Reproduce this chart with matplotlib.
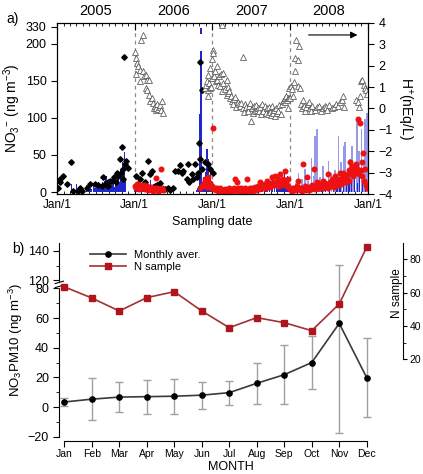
import numpy as np
import matplotlib
matplotlib.use("Agg")
import matplotlib.pyplot as plt
import matplotlib.dates as mdates

plt.rcParams['font.family'] = ['Liberation Sans', 'DejaVu Sans']
plt.rcParams['mathtext.fontset'] = 'custom'
plt.rcParams['mathtext.rm'] = 'Liberation Sans'
plt.rcParams['mathtext.it'] = 'Liberation Sans'

START = np.datetime64('2005-01-01')
YEARS = ['2005', '2006', '2007', '2008']

# ---- panel a: (days since 2005-01-01, value) ----
black_pts = [(6, 6), (14, 13), (16, 18), (30, 22), (45, 11), (64, 41), (77, 2), (100, 2),
             (108, 6), (116, 2), (139, 6), (155, 11), (178, 11), (194, 9), (210, 8), (218, 20),
             (226, 11), (238, 13), (241, 8), (249, 15), (260, 15), (269, 20), (276, 13),
             (280, 26), (288, 22), (296, 45), (301, 26), (304, 61), (308, 31), (312, 18),
             (315, 182), (320, 38), (324, 42), (332, 33),
             (370, 22), (382, 11), (390, 17), (401, 26), (414, 13), (429, 42), (435, 24),
             (448, 29), (460, 8), (472, 10), (485, 12), (508, 4), (520, 6), (530, 3),
             (545, 5), (555, 29), (568, 29), (578, 37), (586, 26), (594, 29), (609, 17),
             (617, 38), (620, 13), (633, 24), (640, 17), (648, 38), (656, 20), (664, 26),
             (667, 66), (672, 44), (674, 175), (680, 31), (682, 137), (695, 41), (711, 38),
             (719, 31), (735, 26)]

red_pts = [(368, 8), (372, 5), (375, 11), (378, 6), (382, 9), (385, 4), (388, 7), (392, 10),
           (396, 5), (400, 8), (404, 6), (408, 9), (412, 4), (416, 7), (420, 5), (424, 8),
           (428, 3), (432, 6), (436, 4), (440, 7), (444, 3), (448, 5), (452, 2), (456, 4),
           (460, 6), (464, 19), (468, 3), (472, 5), (476, 2), (480, 4), (485, 3), (490, 31),
           (494, 5), (498, 3),
           (672, 5), (680, 8), (690, 12), (695, 17), (700, 10), (703, 7), (708, 14), (711, 20),
           (715, 9), (719, 12), (724, 6), (727, 8), (730, 5), (735, 87), (738, 4), (742, 6),
           (746, 3), (750, 5), (754, 2), (758, 4), (762, 3), (766, 5), (770, 2), (774, 3),
           (778, 1), (782, 3), (786, 2), (790, 4), (794, 1), (798, 3), (802, 2), (806, 5),
           (810, 2), (814, 3), (818, 1), (822, 4), (826, 2), (830, 6), (836, 17), (840, 3),
           (844, 13), (848, 5), (852, 2), (856, 4), (860, 3), (864, 6), (868, 2), (872, 4),
           (876, 1), (880, 3), (884, 5), (888, 2), (891, 17), (895, 4), (900, 2), (905, 5),
           (910, 3), (915, 6), (920, 2), (925, 4), (930, 7), (935, 3), (940, 5), (945, 8),
           (950, 4), (954, 13), (958, 6), (962, 9), (966, 5), (970, 8), (975, 11), (980, 6),
           (985, 15), (990, 9), (995, 12), (1000, 7), (1005, 10), (1009, 20), (1014, 13),
           (1018, 9), (1024, 22), (1028, 14), (1032, 10), (1036, 17), (1040, 12), (1044, 8),
           (1048, 24), (1052, 15), (1056, 11), (1060, 18), (1064, 13), (1068, 9), (1071, 29),
           (1075, 14), (1080, 10), (1084, 7), (1087, 17), (1091, 5),
           (1098, 3), (1102, 5), (1106, 2), (1110, 4), (1114, 6), (1118, 3), (1122, 5),
           (1126, 8), (1130, 4), (1134, 15), (1138, 6), (1142, 3), (1146, 5), (1150, 2),
           (1154, 38), (1158, 6), (1162, 4), (1166, 8), (1170, 3), (1173, 20), (1177, 5),
           (1181, 7), (1185, 3), (1189, 6), (1193, 4), (1197, 9), (1201, 5), (1205, 31),
           (1209, 7), (1213, 4), (1217, 10), (1220, 13), (1224, 6), (1228, 8), (1232, 5),
           (1236, 11), (1240, 7), (1244, 9), (1248, 6), (1251, 15), (1255, 8), (1259, 12),
           (1263, 7), (1267, 10), (1271, 6), (1275, 24), (1279, 9), (1283, 13), (1287, 8),
           (1291, 17), (1295, 11), (1299, 7), (1303, 14), (1306, 22), (1310, 10), (1314, 15),
           (1318, 9), (1322, 12), (1326, 17), (1330, 26), (1334, 11), (1338, 19), (1342, 13),
           (1345, 26), (1350, 16), (1354, 21), (1358, 14), (1362, 18), (1366, 24), (1370, 15),
           (1374, 30), (1377, 40), (1381, 28), (1385, 35), (1389, 22), (1393, 30), (1397, 25),
           (1400, 33), (1404, 38), (1408, 31), (1412, 27), (1416, 98), (1420, 24), (1423, 93),
           (1427, 30), (1431, 22), (1435, 40), (1439, 53), (1443, 15), (1447, 31), (1451, 10),
           (1455, 6)]

tri_pts = [(367, 2.65), (370, 2.35), (372, 1.6), (376, 2.15), (381, 2.0), (388, 1.8),
           (388, 1.27), (396, 3.2), (404, 3.45), (404, 1.74), (410, 1.5), (417, 1.58),
           (417, 0.96), (423, 1.35), (423, 0.85), (432, 1.32), (432, 0.65), (439, 0.34),
           (445, 0.5), (451, 0.26), (454, 0.03), (459, 0.11), (464, -0.05), (467, 0.03),
           (472, 0.2), (475, -0.01), (482, 0.08), (486, 0.15), (490, -0.05), (495, 0.34),
           (498, -0.2),
           (695, 0.96), (700, 1.1), (703, 1.27), (707, 0.57), (711, 1.58), (711, 0.88),
           (715, 1.2), (719, 0.96), (719, 1.89), (724, 1.0), (727, 1.43), (730, 2.3),
           (733, 2.75), (735, 2.6), (738, 1.5), (742, 1.74), (745, 1.3), (750, 1.97),
           (750, 1.35), (755, 1.1), (760, 1.5), (766, 1.04), (770, 1.6), (774, 3.9),
           (774, 0.8), (778, 1.66), (782, 1.2), (790, 0.9), (797, 1.35), (797, 0.65),
           (801, 1.0), (805, 0.73), (810, 0.8), (813, 0.5), (817, 0.6), (821, 0.34),
           (825, 0.19), (830, 0.45), (836, 0.54), (842, 0.08), (848, 0.3), (855, 0.19),
           (860, 0.14), (866, 0.25), (872, 0.0), (876, 2.43), (880, -0.15), (885, 0.2),
           (890, 0.05), (895, -0.1), (900, 0.1), (905, 0.26), (910, -0.59), (915, 0.0),
           (920, -0.2), (925, 0.1), (930, -0.1), (935, 0.15), (940, -0.05), (945, 0.0),
           (950, -0.12), (955, 0.05), (960, -0.28), (965, 0.19), (970, -0.1), (975, 0.1),
           (980, -0.2), (985, 0.0), (990, -0.25), (995, 0.05), (1000, -0.15), (1005, -0.3),
           (1010, 0.1), (1015, -0.2), (1020, -0.05), (1025, -0.35), (1030, 0.0), (1035, -0.2),
           (1040, -0.1), (1045, 0.15), (1050, -0.25), (1055, 0.2), (1060, 0.35), (1065, 0.4),
           (1070, 0.5), (1073, 0.3), (1076, 0.6), (1080, 0.42), (1084, 0.5), (1087, 0.03),
           (1090, 0.95), (1092, 0.5),
           (1095, 0.5), (1100, 1.04), (1105, 0.92), (1110, 0.57), (1114, 1.22), (1118, 1.74),
           (1120, 2.36), (1125, 3.21), (1130, 1.04), (1132, 2.25), (1136, 2.93), (1140, 0.96),
           (1145, 0.2), (1150, 0.03), (1155, 0.42), (1160, 0.1), (1165, -0.1), (1170, 0.05),
           (1180, 0.2), (1185, 0.29), (1190, 0.0), (1195, -0.1), (1200, 0.1), (1210, -0.05),
           (1220, 0.05), (1230, 0.1), (1240, -0.1), (1250, 0.0), (1260, 0.1), (1265, 0.05),
           (1270, -0.05), (1280, 0.15), (1290, 0.0), (1300, 0.05), (1310, 0.2), (1320, 0.1),
           (1330, 0.3), (1340, 0.4), (1345, 0.57), (1350, 0.08), (1405, 0.42), (1412, 0.3),
           (1418, 0.08), (1423, 0.57), (1428, 1.27), (1433, 1.35), (1440, 1.12), (1445, 0.96),
           (1452, 0.88), (1455, 0.7)]

bar_dark_day = [69, 93, 116, 139, 150, 160, 170, 178, 185, 190, 196, 200, 205, 210, 215,
                220, 225, 230, 233, 238, 242, 246, 250, 255, 260, 265, 270, 275, 280, 285,
                290, 295, 300, 304, 308, 312, 316, 320,
                365, 370, 375, 380, 385, 390, 395, 400, 405, 410, 415, 420, 425, 430, 435,
                440, 445, 450, 455, 460, 465, 470, 475, 480, 485, 490, 495, 500, 505,
                655, 660, 665, 670, 677, 684, 690, 695, 700, 705, 711, 716, 720, 725, 730, 735,
                742, 750, 758, 766, 774, 782, 790, 798, 806, 814, 822, 830, 838, 846, 854,
                862, 870, 878, 886, 894, 902, 910, 918, 926, 934, 942, 950, 958, 966, 974,
                982, 990, 998, 1006, 1014, 1022, 1030, 1038, 1046, 1052, 1058, 1064, 1070,
                1076, 1082, 1088,
                1100, 1110, 1125, 1140, 1155, 1170, 1185, 1200, 1215, 1230, 1245, 1260, 1280,
                1300, 1315, 1330, 1345, 1360, 1372, 1385, 1398, 1410, 1422, 1435, 1448]
bar_dark_val = [11, 11, 3, 9, 5, 4, 12, 6, 8, 12, 14, 7, 10, 5, 13, 9, 15, 20, 22, 8, 11, 16,
                6, 13, 10, 18, 7, 14, 9, 17, 25, 12, 31, 20, 41, 28, 54, 18,
                6, 12, 9, 5, 14, 8, 11, 4, 9, 13, 6, 10, 4, 7, 5, 16, 8, 3, 11, 6, 9, 4, 7,
                5, 3, 6, 2, 4, 2,
                3, 5, 8, 105, 318, 12, 20, 9, 27, 58, 45, 15, 31, 10, 6, 4,
                3, 2, 4, 2, 3, 1, 2, 3, 1, 2, 3, 1, 4, 2, 3, 2, 5, 3, 2, 4, 3, 2, 5, 3, 4,
                2, 3, 5, 4, 3, 6, 4, 3, 5, 4, 6, 5, 4, 7, 13, 20, 9, 24, 17, 22, 8,
                4, 6, 3, 8, 5, 10, 6, 12, 7, 5, 9, 14, 8, 11, 6, 13, 18, 10, 22, 16, 25, 12,
                20, 15, 9]
bar_light_day = [1120, 1135, 1150, 1165, 1180, 1195, 1205, 1212, 1220, 1235, 1250, 1262,
                 1275, 1290, 1305, 1322, 1335, 1345, 1353, 1365, 1375, 1385, 1395, 1408,
                 1420, 1431, 1440, 1447, 1455]
bar_light_val = [12, 26, 18, 31, 15, 46, 22, 75, 85, 20, 35, 18, 42, 25, 30, 76, 40, 62, 67,
                 30, 45, 62, 35, 96, 55, 85, 40, 98, 107]

# ---- panel b ----
months = ['Jan', 'Feb', 'Mar', 'Apr', 'May', 'Jun', 'Jul', 'Aug', 'Sep', 'Oct', 'Nov', 'Dec']
monthly_mean = [3.4, 5.3, 6.7, 7.0, 7.3, 8.0, 9.7, 16.0, 21.8, 30.0, 56.4, 19.8]
monthly_sd = [3.0, 14.3, 10.2, 11.4, 11.9, 9.0, 8.1, 14.0, 19.8, 18.0, 74.0, 26.7]
n_sample = [63.5, 56.8, 49.0, 57.0, 60.6, 49.0, 39.0, 45.0, 42.0, 37.2, 53.2, 87.3]


def to_dates(days):
    return START + np.array(days, dtype='timedelta64[D]')


# broken y scales
def fwd_a(v):
    v = np.asarray(v, float)
    return np.where(v <= 200, v, 200 + (v - 200) * 0.1757)


def inv_a(u):
    u = np.asarray(u, float)
    return np.where(u <= 200, u, 200 + (u - 200) / 0.1757)


GAP = 5.4


def fwd_b(v):
    v = np.asarray(v, float)
    return np.where(v <= 80, v,
                    np.where(v >= 120, v - 40 + GAP, 80 + (v - 80) * GAP / 40))


def inv_b(u):
    u = np.asarray(u, float)
    return np.where(u <= 80, u,
                    np.where(u >= 80 + GAP, u + 40 - GAP, 80 + (u - 80) * 40 / GAP))


fig = plt.figure(figsize=(4.23, 4.74), dpi=100)

# ================= panel a =================
ax = fig.add_axes([0.1348, 0.5907, 0.7352, 0.3608])
ax.set_yscale('function', functions=(fwd_a, inv_a))
axr = ax.twinx()

x0, x1 = START, START + np.timedelta64(1461, 'D')
ax.set_xlim(x0, x1)
ax.set_ylim(-2.7, 360)
axr.set_ylim(-4, 4)

for yr in YEARS[1:]:
    ax.axvline(np.datetime64(yr + '-01-01'), color='#888888', lw=0.9, ls=(0, (3, 3)), zorder=1)

DARK = '#1f27c9'
bd = to_dates(bar_dark_day)
bv = np.array(bar_dark_val, float)
tall = bv > 200
ax.bar(to_dates(bar_light_day), bar_light_val, width=7.5, color='#6c70e0', alpha=0.7,
       lw=0, zorder=2)
ax.bar(bd[~tall], bv[~tall], width=6, color=DARK, lw=0, zorder=2)
ax.bar(bd[tall], 190, width=6, color=DARK, lw=0, zorder=2)
ax.bar(bd[tall], bv[tall] - 275, bottom=275, width=6, color=DARK, lw=0, zorder=2)

bx, byv = zip(*black_pts)
ax.plot(to_dates(bx), byv, 'D', ms=2.8, color='black', zorder=4)
rx, ryv = zip(*red_pts)
ax.plot(to_dates(rx), ryv, 'o', ms=3.3, color='#ee1111', zorder=5)
tx, tyv = zip(*tri_pts)
axr.plot(to_dates(tx), tyv, '^', ms=3.8, mfc='white', mec='#555555', mew=0.55, ls='none')

ax.set_yticks([0, 50, 100, 150, 200, 330])
ax.tick_params(axis='y', direction='out', length=4, labelsize=9)
ax.xaxis.set_major_locator(mdates.YearLocator())
ax.xaxis.set_minor_locator(mdates.MonthLocator())
ax.xaxis.set_major_formatter(mdates.DateFormatter('%b/1'))
ax.tick_params(axis='x', which='both', direction='in', top=True, labelsize=8.5)
ax.tick_params(axis='x', which='major', length=5)
ax.tick_params(axis='x', which='minor', length=2.5)
axr.set_yticks(np.arange(-4, 5))
axr.set_yticklabels(['\u22124', '\u22123', '\u22122', '\u22121', '0', '1', '2', '3', '4'])
axr.tick_params(axis='y', direction='out', length=4, labelsize=9)

for i, yr in enumerate(YEARS):
    mid = START + np.timedelta64(182 + 365 * i, 'D')
    ax.text(mid, 1.03, yr, transform=ax.get_xaxis_transform(), ha='center', va='bottom',
            fontsize=10.5)

ax.set_ylabel('NO$_3$$^{-}$ (ng m$^{-3}$)', fontsize=10, labelpad=2)
axr.set_ylabel('H$^{+}$(nEq/L)', fontsize=10, rotation=270, labelpad=15)
ax.set_xlabel('Sampling date', fontsize=9, labelpad=4)
ax.annotate('', xy=(0.975, 0.93), xytext=(0.80, 0.93), xycoords='axes fraction',
            arrowprops=dict(arrowstyle='-|>', color='black', lw=0.8, mutation_scale=10))
fig.text(0.016, 0.975, 'a)', fontsize=10, va='top')

# ================= panel b =================
bx_ = np.arange(1, len(months) + 1)
axb = fig.add_axes([0.1402, 0.0787, 0.8132, 0.408])
axb.set_yscale('function', functions=(fwd_b, inv_b))
axn = axb.twinx()
axb.set_xlim(0.82, 13.33)
axb.set_ylim(-20, 145)
axn.set_ylim(-26.4, 89.6)

axb.errorbar(bx_, monthly_mean, yerr=monthly_sd, fmt='none', ecolor='#a0a0a0', elinewidth=1,
             capsize=3, capthick=1, zorder=1)
l1, = axb.plot(bx_, monthly_mean, '-o', color='#3a3a3a', mfc='black', mec='black', ms=3.8,
               lw=1.2, zorder=3, label='Monthly aver.')
l2, = axn.plot(bx_, n_sample, '-s', color='#a33035', mfc='#b0141e', mec='#b0141e', ms=3.8,
               lw=1.2, label='N sample')

axb.set_yticks([-20, 0, 20, 40, 60, 80, 120, 140])
axb.set_yticks([-10, 10, 30, 50, 70, 130], minor=True)
axb.yaxis.set_minor_formatter(plt.NullFormatter())
axb.tick_params(axis='y', which='major', direction='out', length=4, labelsize=9)
axb.tick_params(axis='y', which='minor', direction='out', length=2)
axb.set_xticks(bx_)
axb.set_xticklabels(months)
axb.tick_params(axis='x', direction='out', length=4, labelsize=7.5, pad=2)
axb.xaxis.set_minor_locator(plt.NullLocator())
for s in ('top', 'right'):
    axb.spines[s].set_visible(False)
axb.spines['left'].set_bounds(-20, 145)
axb.spines['bottom'].set_bounds(1, 12)
axb.spines['bottom'].set_position(('outward', 3))

for s in ('top', 'left', 'bottom'):
    axn.spines[s].set_visible(False)
axn.spines['right'].set_bounds(20, 89.6)
axn.set_yticks([20, 40, 60, 80])
axn.set_yticks([30, 50, 70], minor=True)
axn.yaxis.set_minor_formatter(plt.NullFormatter())
axn.tick_params(axis='y', which='major', direction='out', length=3, labelsize=7.5, pad=1.5)
axn.tick_params(axis='y', which='minor', direction='out', length=2)

# break mark on left spine between 80 and 120
tr = axb.get_yaxis_transform()
axb.plot([0, 0], [92, 108], transform=tr, color='white', lw=2.5, clip_on=False, zorder=6)
for yb in (90, 110):
    axb.plot([-0.012, 0.012], [yb - 6, yb + 6], transform=tr, color='black', lw=0.8,
             clip_on=False, zorder=7)

axb.set_ylabel('NO$_3$PM10 (ng m$^{-3}$)', fontsize=9.5, labelpad=2)
axb.set_xlabel('MONTH', fontsize=9, labelpad=1)
axn.set_ylabel('N sample', fontsize=8.5, rotation=90)
axn.yaxis.set_label_coords(0.965, 0.74)

axb.legend([l1, l2], ['Monthly aver.', 'N sample'], loc='upper left',
           bbox_to_anchor=(0.07, 1.0), frameon=False, fontsize=8, handlelength=3.2,
           labelspacing=0.2, borderaxespad=0.2)
fig.text(0.028, 0.49, 'b)', fontsize=10, va='top')

fig.savefig('out.png', dpi=100)
